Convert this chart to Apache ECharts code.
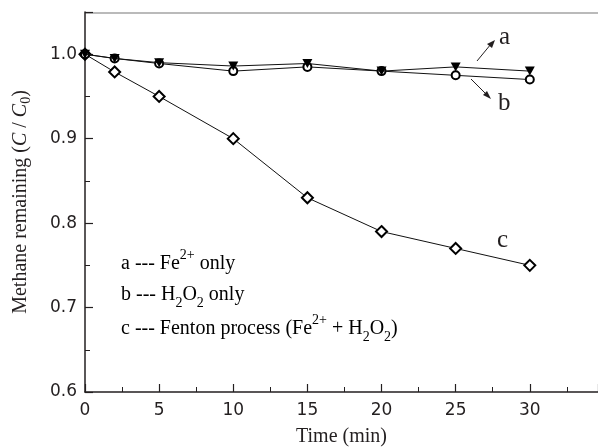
<!DOCTYPE html>
<html>
<head>
    <meta charset="utf-8">
    <title>Methane remaining</title>
    <script src="https://cdn.jsdelivr.net/npm/echarts@6/dist/echarts.min.js"></script>
    <style>
        html, body { margin: 0; padding: 0; background: #fff; }
        #chart { width: 598px; height: 447px; }
    </style>
</head>
<body>
<div id="chart"></div>
<script>
    // 数据
    var times = [0, 2, 5, 10, 15, 20, 25, 30];
    var feOnly = [1.0, 0.995, 0.990, 0.986, 0.989, 0.980, 0.985, 0.980];
    var h2o2Only = [1.0, 0.995, 0.989, 0.980, 0.985, 0.980, 0.975, 0.970];
    var fenton = [1.0, 0.979, 0.950, 0.900, 0.830, 0.790, 0.770, 0.750];

    function pairs(xs, ys) {
        return xs.map(function (x, i) { return [x, ys[i]]; });
    }

    var serif = '"Liberation Serif", "DejaVu Serif", serif';
    var sans = '"DejaVu Sans", "Liberation Sans", sans-serif';
    var ink = '#231f20';

    // 图例文字样式（上标/下标）
    var txtStyle = { fontFamily: serif, fontSize: 20, color: ink, lineHeight: 36 };
    var supStyle = { fontFamily: serif, fontSize: 14, color: ink, padding: [0, 0, 18, 0] };
    var subStyle = { fontFamily: serif, fontSize: 14, color: ink, padding: [17, 0, 0, 0] };

    var myChart = echarts.init(document.getElementById('chart'));
    var option = {
        animation: false,
        backgroundColor: '#fff',
        grid: { left: 85, right: 0, top: 12, bottom: 55, show: false, outerBoundsMode: 'none' },
        xAxis: {
            type: 'value',
            min: 0,
            max: 34.6,
            interval: 5,
            name: 'Time (min)',
            nameLocation: 'middle',
            nameGap: 35,
            nameTextStyle: { fontFamily: serif, fontSize: 20, color: ink },
            axisLine: { show: true, lineStyle: { color: ink, width: 1.5 } },
            axisTick: { inside: true, length: 8, lineStyle: { color: ink, width: 1.2 } },
            minorTick: { show: true, splitNumber: 2, length: 5, lineStyle: { color: ink, width: 1 } },
            axisLabel: { fontFamily: sans, fontSize: 17, color: ink, margin: 10, showMaxLabel: false },
            splitLine: { show: false }
        },
        yAxis: {
            type: 'value',
            min: 0.6,
            max: 1.05,
            interval: 0.1,
            name: '{t|Methane remaining (}{i|C}{t| / }{i|C}{s|0}{t|)}',
            nameLocation: 'middle',
            nameGap: 52,
            nameRotate: 90,
            nameTextStyle: {
                rich: {
                    t: { fontFamily: serif, fontSize: 20, color: ink },
                    i: { fontFamily: serif, fontSize: 20, color: ink, fontStyle: 'italic' },
                    s: { fontFamily: serif, fontSize: 14, color: ink, padding: [10, 0, 0, 0] }
                }
            },
            axisLine: { show: true, lineStyle: { color: ink, width: 1.5 } },
            axisTick: { inside: true, length: 8, lineStyle: { color: ink, width: 1.2 } },
            minorTick: { show: true, splitNumber: 2, length: 5, lineStyle: { color: ink, width: 1 } },
            axisLabel: {
                fontFamily: sans, fontSize: 17, color: ink, margin: 8,
                showMaxLabel: false,
                formatter: function (v) { return v.toFixed(1); }
            },
            splitLine: { show: false }
        },
        series: [
            {
                name: 'a',
                type: 'line',
                data: pairs(times, feOnly),
                symbol: 'path://M0,0 L10,0 L5,10 Z',
                symbolSize: [10, 9],
                itemStyle: { color: '#000' },
                lineStyle: { color: '#111', width: 1 },
                z: 4
            },
            {
                name: 'b',
                type: 'line',
                data: pairs(times, h2o2Only),
                symbol: 'emptyCircle',
                symbolSize: 8,
                itemStyle: { color: '#000', borderWidth: 1 },
                lineStyle: { color: '#111', width: 1 },
                z: 3
            },
            {
                name: 'c',
                type: 'line',
                data: pairs(times, fenton),
                symbol: 'emptyDiamond',
                symbolSize: 11,
                itemStyle: { color: '#000', borderWidth: 1 },
                lineStyle: { color: '#111', width: 1 },
                z: 2
            }
        ],
        graphic: [
            // 上边框
            { type: 'line', shape: { x1: 85, y1: 13, x2: 598, y2: 13 }, style: { stroke: '#777', lineWidth: 1.2 } },
            // 标注 a / b / c
            { type: 'text', left: 499, top: 25, style: { text: 'a', fontFamily: serif, fontSize: 25, fill: ink } },
            { type: 'line', shape: { x1: 477, y1: 61, x2: 491, y2: 44 }, style: { stroke: ink, lineWidth: 1 } },
            { type: 'polygon', shape: { points: [[495, 40], [487, 44], [492, 48]] }, style: { fill: ink } },
            { type: 'text', left: 498, top: 91, style: { text: 'b', fontFamily: serif, fontSize: 25, fill: ink } },
            { type: 'line', shape: { x1: 471, y1: 79, x2: 487, y2: 95 }, style: { stroke: ink, lineWidth: 1 } },
            { type: 'polygon', shape: { points: [[491, 99], [483, 95], [487, 91]] }, style: { fill: ink } },
            { type: 'text', left: 497, top: 228, style: { text: 'c', fontFamily: serif, fontSize: 25, fill: ink } },
            // 图例文字
            {
                type: 'text', left: 121, top: 248,
                style: {
                    text: '{t|a --- Fe}{p|2+}{t| only}',
                    rich: { t: txtStyle, p: supStyle }
                }
            },
            {
                type: 'text', left: 121, top: 285,
                style: {
                    text: '{t|b --- H}{s|2}{t|O}{s|2}{t| only}',
                    rich: { t: txtStyle, s: subStyle }
                }
            },
            {
                type: 'text', left: 121, top: 313,
                style: {
                    text: '{t|c --- Fenton process (Fe}{p|2+}{t| + H}{s|2}{t|O}{s|2}{t|)}',
                    rich: { t: txtStyle, p: supStyle, s: subStyle }
                }
            }
        ]
    };
    myChart.setOption(option);
</script>
</body>
</html>
